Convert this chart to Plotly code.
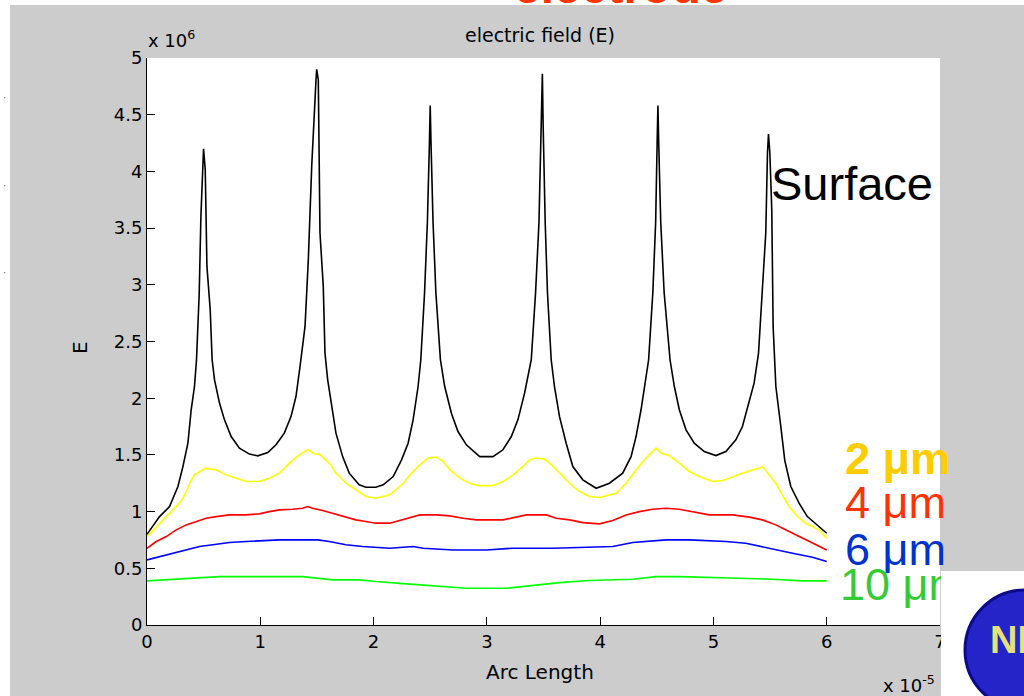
import plotly.graph_objects as go

# ---------------- data (x in units of 1e-5 m, E in units of 1e6) ----------------
surface_x = [0.000, 0.111, 0.199, 0.273, 0.317, 0.361, 0.390, 0.419, 0.437, 0.461, 0.476, 0.493, 0.499,
             0.514, 0.529, 0.558, 0.575, 0.596, 0.640, 0.684, 0.743, 0.816, 0.904, 0.978, 1.066, 1.139,
             1.212, 1.271, 1.315, 1.351, 1.395, 1.424, 1.454, 1.492, 1.498, 1.512, 1.521, 1.527, 1.556,
             1.571, 1.595, 1.624, 1.668, 1.727, 1.785, 1.873, 1.932, 2.020, 2.085, 2.173, 2.247, 2.305,
             2.349, 2.393, 2.417, 2.450, 2.475, 2.493, 2.500, 2.507, 2.525, 2.550, 2.590, 2.628, 2.687,
             2.745, 2.819, 2.937, 3.054, 3.142, 3.216, 3.274, 3.333, 3.392, 3.430, 3.460, 3.482, 3.490,
             3.497, 3.515, 3.535, 3.568, 3.597, 3.641, 3.700, 3.759, 3.847, 3.965, 4.082, 4.199, 4.273,
             4.317, 4.361, 4.405, 4.428, 4.465, 4.490, 4.503, 4.510, 4.517, 4.535, 4.565, 4.617, 4.655,
             4.699, 4.758, 4.831, 4.919, 5.022, 5.110, 5.198, 5.256, 5.315, 5.359, 5.398, 5.418, 5.441,
             5.462, 5.477, 5.486, 5.498, 5.515, 5.527, 5.551, 5.595, 5.630, 5.683, 5.756, 5.829, 5.932,
             6.000]
surface_y = [0.800, 0.956, 1.044, 1.221, 1.397, 1.603, 1.898, 2.103, 2.339, 2.928, 3.604, 4.045, 4.199,
             4.016, 3.162, 2.780, 2.339, 2.162, 1.957, 1.809, 1.662, 1.559, 1.507, 1.492, 1.521, 1.589,
             1.692, 1.838, 2.015, 2.280, 2.633, 3.222, 4.045, 4.810, 4.900, 4.810, 4.016, 3.457, 2.986,
             2.398, 2.162, 1.957, 1.692, 1.485, 1.339, 1.236, 1.215, 1.215, 1.236, 1.309, 1.456, 1.603,
             1.809, 2.103, 2.339, 2.930, 3.550, 4.250, 4.580, 4.250, 3.550, 2.930, 2.339, 2.103, 1.868,
             1.706, 1.589, 1.485, 1.485, 1.545, 1.662, 1.809, 2.045, 2.339, 2.930, 3.550, 4.400, 4.860,
             4.400, 3.550, 2.930, 2.339, 2.103, 1.839, 1.603, 1.397, 1.280, 1.206, 1.250, 1.339, 1.485,
             1.662, 1.898, 2.192, 2.339, 2.930, 3.550, 4.250, 4.580, 4.250, 3.550, 2.930, 2.339, 2.103,
             1.898, 1.721, 1.603, 1.530, 1.494, 1.530, 1.633, 1.750, 1.957, 2.133, 2.398, 2.751, 3.104,
             3.457, 4.163, 4.330, 4.163, 3.663, 2.633, 2.103, 1.750, 1.450, 1.221, 1.074, 0.956, 0.868,
             0.809]

um2_x = [0.000, 0.082, 0.170, 0.258, 0.317, 0.361, 0.376, 0.420, 0.464, 0.517, 0.611, 0.699, 0.787,
         0.875, 0.992, 1.080, 1.168, 1.256, 1.345, 1.418, 1.477, 1.521, 1.609, 1.668, 1.756, 1.844,
         1.932, 2.020, 2.144, 2.261, 2.335, 2.408, 2.481, 2.555, 2.614, 2.673, 2.761, 2.849, 2.922,
         3.055, 3.143, 3.231, 3.319, 3.378, 3.437, 3.510, 3.569, 3.642, 3.730, 3.818, 3.906, 3.994,
         4.141, 4.229, 4.317, 4.405, 4.464, 4.493, 4.537, 4.611, 4.699, 4.787, 4.875, 4.993, 5.081,
         5.169, 5.257, 5.345, 5.404, 5.433, 5.492, 5.550, 5.609, 5.668, 5.742, 5.815, 5.933, 6.000]
um2_y = [0.779, 0.868, 0.956, 1.044, 1.118, 1.206, 1.250, 1.324, 1.354, 1.383, 1.368, 1.324, 1.295,
         1.265, 1.265, 1.295, 1.339, 1.427, 1.501, 1.545, 1.510, 1.507, 1.427, 1.339, 1.250, 1.192,
         1.133, 1.118, 1.148, 1.250, 1.339, 1.413, 1.472, 1.481, 1.442, 1.368, 1.295, 1.250, 1.229,
         1.229, 1.265, 1.324, 1.398, 1.457, 1.472, 1.463, 1.413, 1.339, 1.250, 1.177, 1.133, 1.125,
         1.162, 1.250, 1.368, 1.472, 1.531, 1.560, 1.516, 1.492, 1.427, 1.354, 1.310, 1.265, 1.274,
         1.310, 1.339, 1.368, 1.383, 1.398, 1.324, 1.250, 1.148, 1.044, 0.956, 0.897, 0.839, 0.765]

um4_x = [0.000, 0.082, 0.170, 0.258, 0.346, 0.434, 0.522, 0.611, 0.728, 0.875, 0.992, 1.080, 1.168,
         1.286, 1.374, 1.418, 1.462, 1.550, 1.639, 1.756, 1.844, 1.932, 2.020, 2.144, 2.261, 2.408,
         2.555, 2.673, 2.790, 2.908, 3.143, 3.261, 3.349, 3.525, 3.613, 3.731, 3.848, 3.994, 4.111,
         4.229, 4.346, 4.464, 4.581, 4.699, 4.816, 4.963, 5.169, 5.316, 5.433, 5.551, 5.668, 5.786,
         5.903, 6.000]
um4_y = [0.676, 0.736, 0.780, 0.839, 0.883, 0.912, 0.942, 0.956, 0.971, 0.971, 0.980, 1.000, 1.015,
         1.021, 1.030, 1.044, 1.030, 1.009, 0.986, 0.956, 0.927, 0.912, 0.898, 0.898, 0.933, 0.971,
         0.971, 0.962, 0.942, 0.927, 0.927, 0.951, 0.971, 0.971, 0.942, 0.927, 0.903, 0.892, 0.921,
         0.971, 1.000, 1.021, 1.030, 1.021, 1.000, 0.971, 0.971, 0.951, 0.927, 0.883, 0.824, 0.765,
         0.706, 0.662]

um6_x = [0.000, 0.111, 0.288, 0.464, 0.581, 0.728, 0.875, 1.022, 1.168, 1.506, 1.609, 1.756, 1.903,
         2.144, 2.349, 2.437, 2.702, 2.996, 3.231, 3.584, 3.819, 3.994, 4.111, 4.288, 4.582, 4.787,
         5.110, 5.286, 5.433, 5.551, 5.698, 5.874, 6.000]
um6_y = [0.574, 0.603, 0.647, 0.692, 0.707, 0.727, 0.736, 0.742, 0.751, 0.751, 0.736, 0.707, 0.692,
         0.677, 0.692, 0.677, 0.662, 0.662, 0.677, 0.677, 0.686, 0.692, 0.692, 0.727, 0.751, 0.751,
         0.736, 0.721, 0.692, 0.662, 0.633, 0.598, 0.559]

um10_x = [0.000, 0.170, 0.479, 0.640, 1.374, 1.492, 1.639, 1.873, 2.020, 2.290, 2.584, 2.819, 3.172,
          3.466, 3.642, 3.906, 4.288, 4.493, 4.699, 5.228, 5.521, 5.786, 6.000]
um10_y = [0.389, 0.398, 0.412, 0.427, 0.427, 0.412, 0.398, 0.398, 0.383, 0.363, 0.345, 0.324, 0.324,
          0.354, 0.374, 0.392, 0.404, 0.427, 0.427, 0.412, 0.404, 0.389, 0.389]

x_ticks = [0, 1, 2, 3, 4, 5, 6, 7]
y_ticks = [0, 0.5, 1, 1.5, 2, 2.5, 3, 3.5, 4, 4.5, 5]
y_tick_text = ["0", "0.5", "1", "1.5", "2", "2.5", "3", "3.5", "4", "4.5", "5"]

# ---------------- layout geometry (pixels) ----------------
W, H = 1024, 696
L, R, T, B = 147, 84, 58, 71
PW, PH = W - L - R, H - T - B


def px(x):
    return (x - L) / PW


def py(y):
    return (H - B - y) / PH


MFONT = "DejaVu Sans"
AFONT = "Liberation Sans"

fig = go.Figure()
series = [
    (surface_x, surface_y, "#000000"),
    (um2_x, um2_y, "#ffff00"),
    (um4_x, um4_y, "#ff0000"),
    (um6_x, um6_y, "#0000ff"),
    (um10_x, um10_y, "#00ff00"),
]
for xs, ys, col in series:
    fig.add_trace(go.Scatter(x=xs, y=ys, mode="lines", line=dict(color=col, width=1.6),
                             hoverinfo="skip", showlegend=False))

# "10 um" label drawn as a text trace so the logo box can sit over it
x_10 = (840 - L) / PW * 7
y_10 = (H - B - 589) / PH * 5
fig.add_trace(go.Scatter(x=[x_10], y=[y_10], mode="text", text=["10 μm"],
                         textposition="middle right",
                         textfont=dict(family=AFONT, size=45, color="#33cc33"),
                         cliponaxis=False, hoverinfo="skip", showlegend=False))

shapes = [
    dict(type="rect", xref="paper", yref="paper", x0=px(-5), x1=px(10), y0=py(705), y1=py(-5),
         fillcolor="white", line=dict(width=0), layer="below"),
    dict(type="rect", xref="paper", yref="paper", x0=px(-5), x1=px(1030), y0=py(5), y1=py(-5),
         fillcolor="white", line=dict(width=0), layer="below"),
    dict(type="rect", xref="paper", yref="paper", x0=px(941), x1=px(1030), y0=py(705), y1=py(571),
         fillcolor="white", line=dict(width=0), layer="above"),
    dict(type="circle", xref="paper", yref="paper", x0=px(965), x1=px(1085), y0=py(710), y1=py(590),
         fillcolor="#2424c8", line=dict(color="#0c0c8a", width=3), layer="above"),
]

ann = []


def add_text(text, x, y, size, color="black", family=MFONT, xanchor="center", yanchor="middle", angle=0):
    ann.append(dict(text=text, x=px(x), y=py(y), xref="paper", yref="paper", showarrow=False,
                    xanchor=xanchor, yanchor=yanchor, textangle=angle,
                    font=dict(family=family, size=size, color=color)))


add_text("electric field (E)", 540, 35, 19)
add_text("x 10<sup>6</sup>", 146, 39, 18, xanchor="left")
add_text("Arc Length", 540, 672, 20)
add_text("E", 80, 348, 20, angle=-90)
add_text("x 10<sup>-5</sup>", 881, 684, 18, xanchor="left")
add_text("Surface", 769, 183, 47, family=AFONT, xanchor="left")
add_text("<b>2 μm</b>", 843, 458, 45, color="#ffcc00", family=AFONT, xanchor="left")
add_text("4 μm", 843, 502, 45, color="#ff3300", family=AFONT, xanchor="left")
add_text("6 μm", 843, 549, 45, color="#0033cc", family=AFONT, xanchor="left")
add_text("<b>NI</b>", 988, 640, 38, color="#e6e27a", family=AFONT, xanchor="left")
add_text("<b>electrode</b>", 620, 15, 48, color="#ff3300", family=AFONT, yanchor="bottom")
for yy in (97, 185, 272):
    add_text("·", 4, yy, 10, color="#666666")

fig.update_layout(
    width=W, height=H,
    margin=dict(l=L, r=R, t=T, b=B, pad=0),
    paper_bgcolor="#cccccc",
    plot_bgcolor="white",
    shapes=shapes,
    annotations=ann,
    xaxis=dict(range=[0, 7], tickvals=x_ticks, ticks="inside", ticklen=8, tickcolor="black",
               showline=True, linecolor="black", linewidth=1, showgrid=False, zeroline=False,
               tickfont=dict(family=MFONT, size=18, color="black"), fixedrange=True),
    yaxis=dict(range=[0, 5], tickvals=y_ticks, ticktext=y_tick_text, ticks="inside", ticklen=8,
               tickcolor="black", showline=True, linecolor="black", linewidth=1, showgrid=False,
               zeroline=False, tickfont=dict(family=MFONT, size=18, color="black"), fixedrange=True),
)

fig.write_html("out.html")
